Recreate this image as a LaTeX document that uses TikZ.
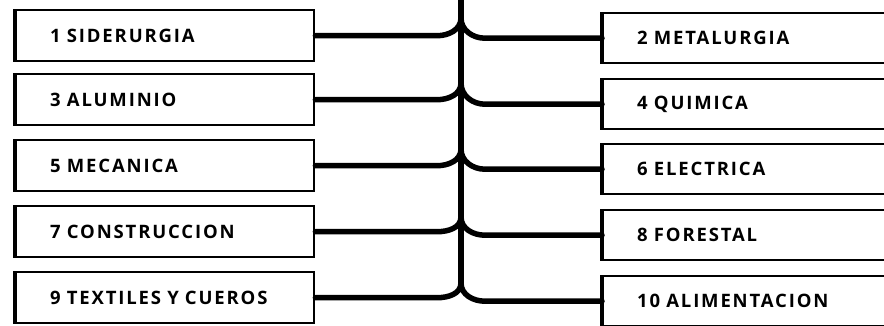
\documentclass[tikz,border=0pt]{standalone}
\usepackage{fontspec}
\setmainfont[LetterSpace=10, WordSpace=1.6]{Open Sans}
\usepackage{tikz}
\usetikzlibrary{positioning}

\begin{document}
\begin{tikzpicture}[x=1pt, y=-1pt,
		caja/.style={draw, line width=2.4pt, text width=230pt, align=left,
			inner xsep=34pt, inner ysep=0pt, font=\bfseries\fontsize{18.5}{20}\selectfont},
		cajaizq/.style={caja, minimum height=51pt},
		cajader/.style={caja, minimum height=50pt},
		canto/.style={line width=4.5pt},
		rama/.style={line width=5.5pt, line cap=round},
		tronco/.style={line width=6pt}]
		\clip (0, 0) rectangle (884, 325);
		\fill[white] (0, 0) rectangle (884, 325);

		% cajas de la izquierda
		\node[cajaizq, anchor=north west] (sid) at (15, 9) {1 SIDERURGIA};
		\node[cajaizq, anchor=north west] (alu) at (15, 73) {3 ALUMINIO};
		\node[cajaizq, anchor=north west] (mec) at (15, 139) {5 MECANICA};
		\node[cajaizq, anchor=north west] (con) at (15, 205) {7 CONSTRUCCION};
		\node[cajaizq, anchor=north west] (tex) at (15, 271) {9 TEXTILES Y CUEROS};

		% cajas de la derecha (cortadas por el borde)
		\node[cajader, anchor=north west] (met) at (602, 12) {2 METALURGIA};
		\node[cajader, anchor=north west] (qui) at (602, 78) {4 QUIMICA};
		\node[cajader, anchor=north west] (ele) at (602, 143) {6 ELECTRICA};
		\node[cajader, anchor=north west] (for) at (602, 209) {8 FORESTAL};
		\node[cajader, anchor=north west] (ali) at (602, 275) {10 ALIMENTACION};

		% bordes izquierdos mas gruesos
		\foreach \n in {sid, alu, mec, con, tex, met, qui, ele, for, ali}
			\draw[canto] (\n.north west) -- (\n.south west);

		% tronco y bifurcaciones
		\coordinate (arriba) at (461, 0);
		\coordinate (b1) at (461, 18);
		\coordinate (b2) at (461, 83);
		\coordinate (b3) at (461, 149);
		\coordinate (b4) at (461, 217);
		\coordinate (b5) at (461, 283);
		\draw[tronco] (arriba) -- (b5);

		\foreach \iz/\de/\b in {sid/met/b1, alu/qui/b2, mec/ele/b3, con/for/b4, tex/ali/b5} {
			\draw[rama] (\iz.east) -- ([xshift=-24pt]\iz.east -| \b) to[out=0, in=-90] (\b);
			\draw[rama] (\b) to[out=-90, in=180] ([xshift=24pt]\de.west -| \b) -- (\de.west);
		}
	\end{tikzpicture}
\end{document}
